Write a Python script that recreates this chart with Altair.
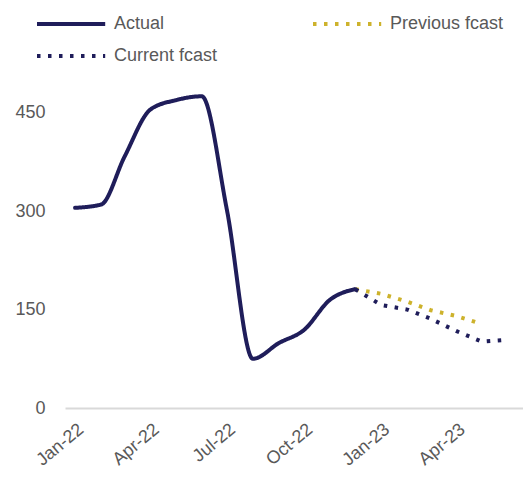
import altair as alt
import pandas as pd

# Monthly series
actual_months = ["2022-01-01", "2022-02-01", "2022-03-01", "2022-04-01", "2022-05-01", "2022-06-01",
                 "2022-07-01", "2022-08-01", "2022-09-01", "2022-10-01", "2022-11-01", "2022-12-01"]
actual_values = [305, 310, 383, 455, 469, 475, 302, 75, 99, 119, 165, 181]

prev_months = ["2022-12-01", "2023-01-01", "2023-02-01", "2023-03-01", "2023-04-01", "2023-05-01"]
prev_values = [181, 174, 162, 149, 140, 128]

curr_months = ["2022-12-01", "2023-01-01", "2023-02-01", "2023-03-01", "2023-04-01", "2023-05-01", "2023-06-01"]
curr_values = [181, 157, 150, 136, 117, 101, 104]

series_names = ["Actual", "Previous fcast", "Current fcast"]
series_colors = ["#1F1D5A", "#CDB22C", "#1F1D5A"]
series_dashes = [[1, 0], [3.5, 7.5], [3.5, 7.5]]

y_ticks = [0, 150, 300, 450]
x_ticks = ["2022-01-01", "2022-04-01", "2022-07-01", "2022-10-01", "2023-01-01", "2023-04-01"]

frames = []
for name, months, values in [
    ("Actual", actual_months, actual_values),
    ("Previous fcast", prev_months, prev_values),
    ("Current fcast", curr_months, curr_values),
]:
    frames.append(pd.DataFrame({"month": months, "value": values, "series": name}))
df = pd.concat(frames, ignore_index=True)
df["month"] = df["month"] + "T00:00:00"

FONT = "Liberation Sans"
GREY = "#595959"

x_enc = alt.X(
    "month:T",
    scale=alt.Scale(domain=[alt.DateTime(year=2021, month=12, date=20),
                            alt.DateTime(year=2023, month=6, date=19)]),
    axis=alt.Axis(
        title=None,
        values=[alt.DateTime(year=int(d[:4]), month=int(d[5:7]), date=1) for d in x_ticks],
        format="%b-%y",
        labelAngle=-40,
        labelFontSize=18,
        labelColor=GREY,
        labelFont=FONT,
        labelPadding=12,
        ticks=False,
        grid=False,
        domainColor="#D9D9D9",
        domainWidth=2,
    ),
)
y_enc = alt.Y(
    "value:Q",
    scale=alt.Scale(domain=[0, 480], nice=False),
    axis=alt.Axis(
        title=None,
        values=y_ticks,
        labelFontSize=18,
        labelColor=GREY,
        labelFont=FONT,
        labelPadding=20,
        ticks=False,
        grid=False,
        domain=False,
    ),
)
# Long horizontal stroke drawn from a compact symbol box, so rows stay tight
legend = alt.Legend(
    title=None,
    orient="none",
    direction="horizontal",
    legendX=-30,
    legendY=-82,
    columns=2,
    columnPadding=87,
    rowPadding=10,
    symbolType="M-1,0H5.2",
    symbolSize=484,
    symbolStrokeWidth=4,
    labelFontSize=18,
    labelFont=FONT,
    labelColor=GREY,
    labelOffset=53,
)
color_enc = alt.Color("series:N", scale=alt.Scale(domain=series_names, range=series_colors), legend=legend)
dash_enc = alt.StrokeDash("series:N", scale=alt.Scale(domain=series_names, range=series_dashes), legend=legend)

base = alt.Chart(df).encode(x=x_enc, y=y_enc, color=color_enc, strokeDash=dash_enc)

actual = base.transform_filter(alt.datum.series == "Actual").mark_line(
    strokeWidth=4, interpolate="monotone", strokeCap="round", strokeJoin="round"
)
fcast = base.transform_filter(alt.datum.series != "Actual").mark_line(strokeWidth=4)

chart = alt.layer(fcast, actual).properties(
    width=458,
    height=315,
    padding={"left": 65, "top": 93, "right": 0, "bottom": 72},
    autosize=alt.AutoSizeParams(type="none"),
    background="white",
).configure_view(stroke=None)

chart.save("out.html", embed_options={"renderer": "svg", "actions": False})
